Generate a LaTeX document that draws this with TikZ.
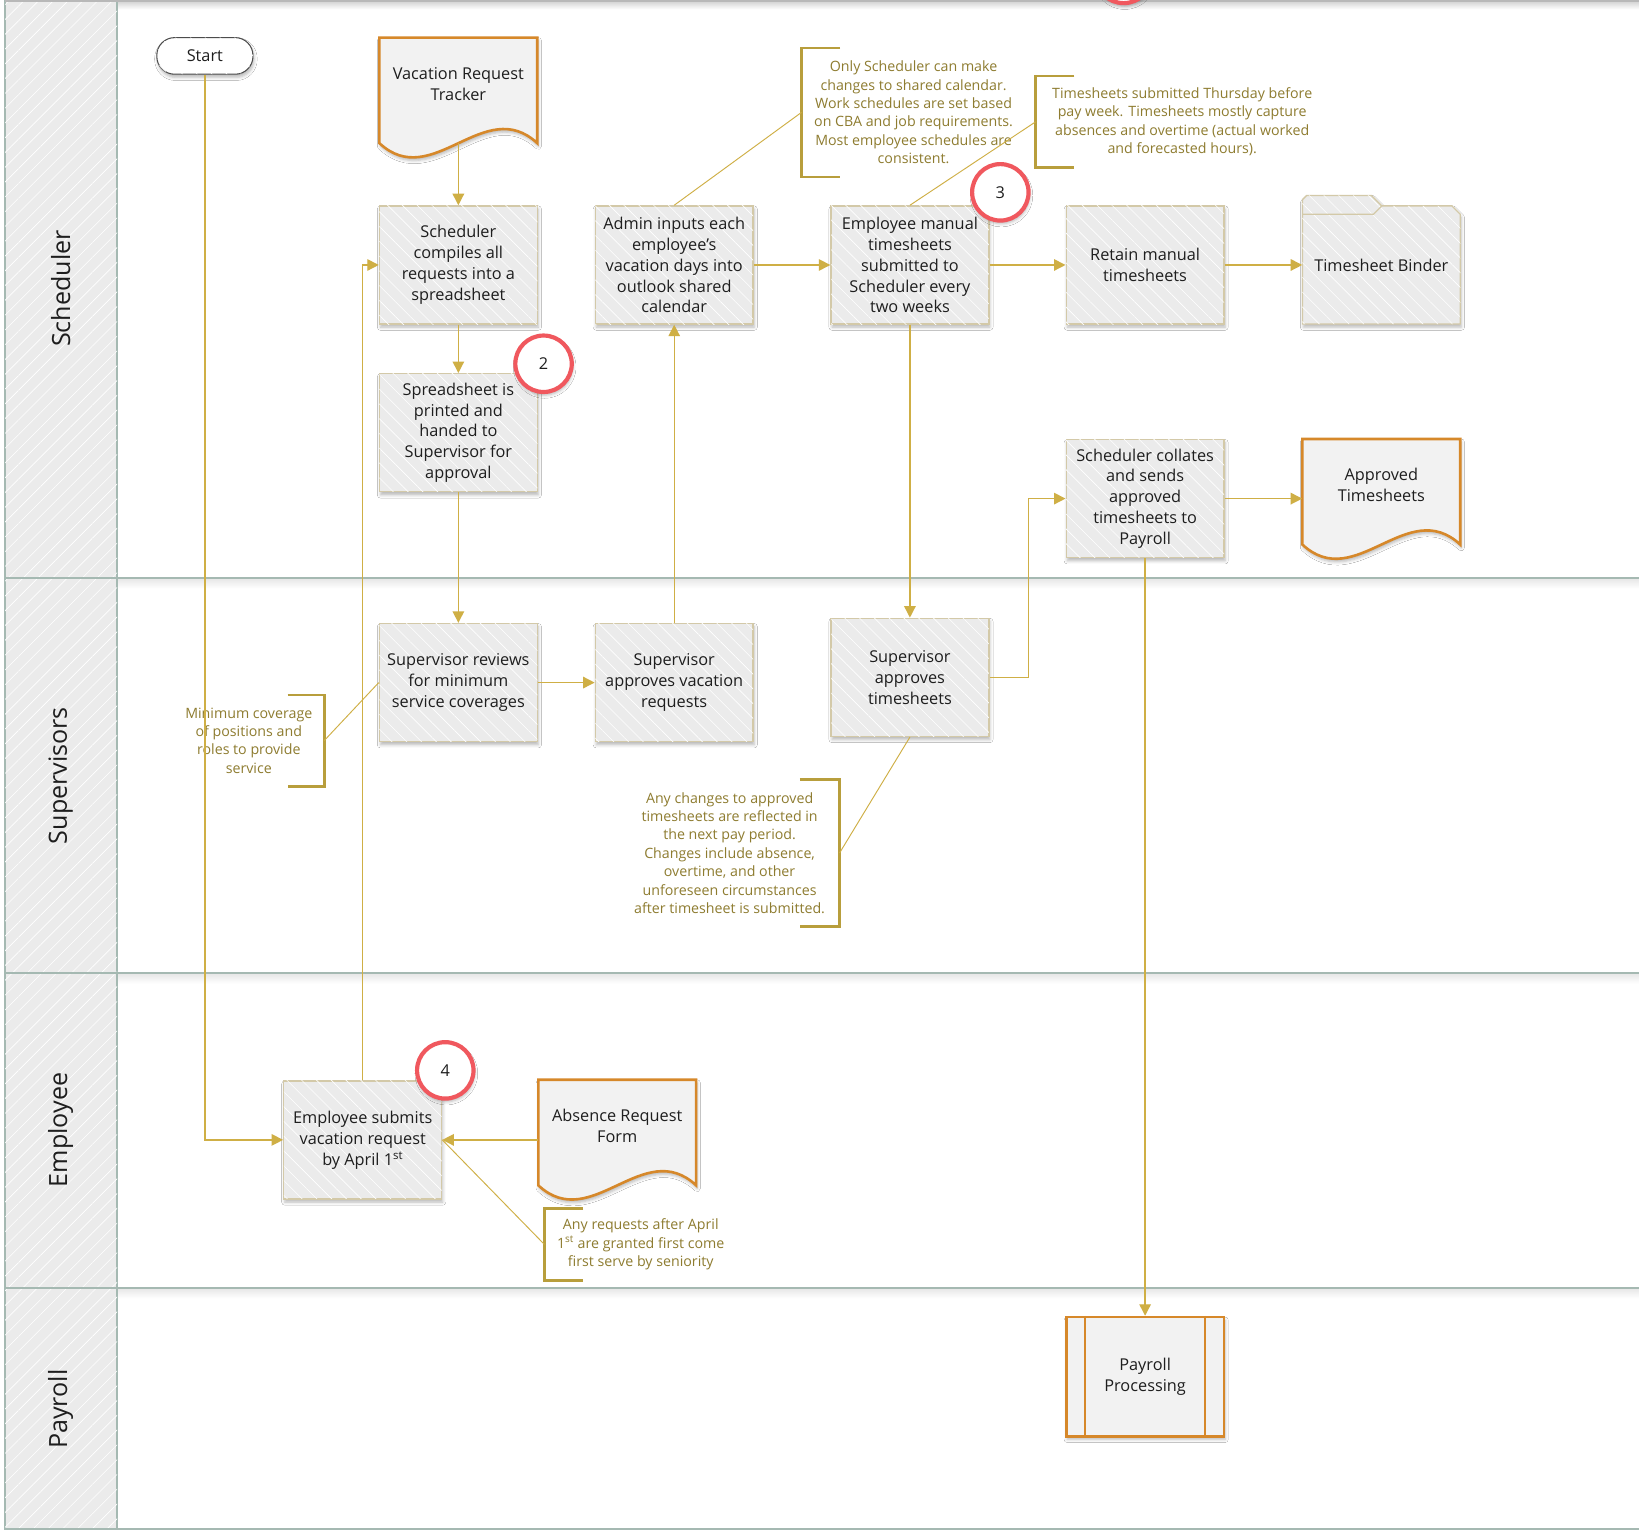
\documentclass[tikz,border=0pt]{standalone}
\usepackage{fontspec}
\setmainfont{Open Sans}
\usetikzlibrary{arrows.meta,patterns.meta,shadows.blur,calc}

\definecolor{lanegray}{HTML}{EBEBEB}
\definecolor{laneline}{HTML}{A5B9B2}
\definecolor{boxfill}{HTML}{EBEBEB}
\definecolor{boxline}{HTML}{D3C9A8}
\definecolor{docline}{HTML}{D6882A}
\definecolor{docfill}{HTML}{F2F2F2}
\definecolor{flow}{HTML}{CFAF45}
\definecolor{notebr}{HTML}{B89E3C}
\definecolor{notetx}{HTML}{8E7C30}
\definecolor{ringred}{HTML}{F0585E}
\definecolor{ink}{HTML}{1E1E1E}

\newcommand\bxfont{\fontsize{15.6}{20}\selectfont}
\newcommand\ntfont{\fontsize{13.6}{17.6}\selectfont}
\newcommand\lnfont{\fontsize{24}{28}\selectfont}

% document symbol: centre x, top y (wavy bottom edge)
\newcommand\docpath[2]{%
  \path[docshape] (#1-75.5,#2) -- (#1+75.5,#2) -- (#1+75.5,#2+101)
    .. controls (#1+25,#2+54) and (#1-25,#2+148) .. (#1-75.5,#2+101) -- cycle;}

\tikzset{
  softshadow/.style={blur shadow={shadow xshift=1pt,shadow yshift=-3pt,
      shadow blur radius=3pt,shadow opacity=28}},
  hatchbox/.style={postaction={pattern={Lines[angle=-45,distance=10pt,line width=0.6pt]},
      pattern color=white,fill opacity=0.7}},
  proc/.style={rectangle,draw=boxline,line width=1.3pt,fill=boxfill,hatchbox,
      minimum width=151pt,minimum height=113pt,inner sep=2pt,align=center,
      font=\bxfont,text=ink,softshadow},
  docshape/.style={draw=docline,line width=2.5pt,fill=docfill,softshadow},
  doclabel/.style={rectangle,minimum width=151pt,minimum height=88pt,inner sep=0pt,
      align=center,font=\bxfont,text=ink},
  folder/.style={draw=boxline,line width=1.3pt,fill=boxfill,hatchbox,softshadow},
  predef/.style={rectangle,draw=docline,line width=2.5pt,fill=docfill,
      minimum width=151pt,minimum height=114pt,inner sep=2pt,align=center,
      font=\bxfont,text=ink,softshadow},
  term/.style={rectangle,rounded corners=17pt,draw=black!70,line width=1pt,fill=white,
      hatchbox,minimum width=92pt,minimum height=35pt,font=\bxfont,text=ink,softshadow},
  note/.style={rectangle,inner sep=0pt,align=center,font=\ntfont,text=notetx},
  bracket/.style={draw=notebr,line width=2.6pt},
  notelink/.style={draw=flow,line width=0.9pt},
  flowline/.style={draw=flow,line width=1.3pt,-{Triangle[length=11pt,width=11pt]}},
  numring/.style={circle,draw=ringred,line width=4pt,fill=white,minimum size=54pt,
      inner sep=0pt,font=\bxfont,text=ink,softshadow},
  lanehead/.style={fill=lanegray,draw=laneline,line width=1.5pt,
      postaction={pattern={Lines[angle=45,distance=10pt,line width=0.6pt]},pattern color=white,
      fill opacity=0.7}},
  lanelabel/.style={rotate=90,font=\lnfont,text=ink}
}

\begin{document}
\begin{tikzpicture}[x=1pt,y=-1pt]
\useasboundingbox (0,0) rectangle (1568,1466);
\fill[white] (0,0) rectangle (1568,1466);

% ---- swimlanes ----
\shade[top color=black!20,bottom color=white] (5,0) rectangle (1568,9);
\foreach \ta/\tb in {0/553,553/931,931/1232,1232/1463}{
  \path[lanehead] (5,\ta) rectangle (112,\tb);
}
\foreach \s in {553,931,1232}{
  \shade[top color=black!10,bottom color=white] (113,\s) rectangle (1568,\s+10);
  \draw[laneline,line width=2pt] (5,\s) -- (1568,\s);
}
\draw[laneline,line width=2pt] (5,1463) -- (1568,1463);
\draw[black!28,line width=2pt] (5,0.6) -- (1568,0.6);

\node[lanelabel] (lane-sched) at (58,276) {Scheduler};
\node[lanelabel] (lane-sup) at (58,742) {Supervisors};
\node[lanelabel] (lane-emp) at (58,1081) {Employee};
\node[lanelabel] (lane-pay) at (58,1348) {Payroll};

% ---- scheduler lane ----
\node[term] (start) at (196,53.5) {Start};

\docpath{438.5}{36}
\node[doclabel] (vrt) at (438.5,93) {Vacation Request\\Tracker\\\strut};

\node[proc] (compiles) at (438.5,253.5) {Scheduler\\compiles all\\requests into a\\spreadsheet};
\node[proc] (spread) at (438.5,414) {Spreadsheet is\\printed and\\handed to\\Supervisor for\\approval};
\node[proc] (admin) at (645,253.5) {Admin inputs each\\employee’s\\vacation days into\\outlook shared\\calendar};
\node[proc] (empman) at (870.5,253.5) {Employee manual\\timesheets\\submitted to\\Scheduler every\\two weeks};
\node[proc] (retain) at (1095.5,253.5) {Retain manual\\timesheets};

\path[folder] (1246,310) -- (1246,191) -- (1250,187) -- (1312,187) -- (1322,197)
  -- (1389,197) -- (1397,205) -- (1397,310) -- cycle;
\draw[boxline,line width=1.2pt] (1246,205) -- (1314,205) -- (1322,197);
\node[rectangle,minimum width=151pt,minimum height=113pt,inner sep=0pt,font=\bxfont,text=ink]
  (binder) at (1321.5,253.5) {Timesheet Binder};

\node[proc] (collates) at (1095.5,477) {Scheduler collates\\and sends\\approved\\timesheets to\\Payroll};
\docpath{1321.5}{420}
\node[doclabel] (approved) at (1321.5,477) {Approved\\Timesheets\\\strut};

\node[note,minimum width=214pt,minimum height=123pt] (n1) at (874,107.5)
  {Only Scheduler can make\\changes to shared calendar.\\Work schedules are set based\\on CBA and job requirements.\\Most employee schedules are\\consistent.};
\draw[bracket] ($(n1.north west)+(37,0)$) -- (n1.north west) -- (n1.south west) -- ++(37,0);

\node[note,minimum width=280pt,minimum height=87pt] (n2) at (1131,116.5)
  {Timesheets submitted Thursday before\\pay week. Timesheets mostly capture\\absences and overtime (actual worked\\and forecasted hours).};
\draw[bracket] ($(n2.north west)+(37,0)$) -- (n2.north west) -- (n2.south west) -- ++(37,0);

% ---- supervisors lane ----
\node[proc] (supreview) at (438.5,653) {Supervisor reviews\\for minimum\\service coverages};
\node[proc] (supvac) at (645,653) {Supervisor\\approves vacation\\requests};
\node[proc] (supts) at (870.5,648) {Supervisor\\approves\\timesheets};

\node[note,minimum width=144pt,minimum height=87pt] (mc) at (238,708.5)
  {Minimum coverage\\of positions and\\roles to provide\\service};
\draw[bracket] ($(mc.north east)+(-35,0)$) -- (mc.north east) -- (mc.south east) -- ++(-35,0);

\node[note,minimum width=210pt,minimum height=140pt] (chg) at (698,816)
  {Any changes to approved\\timesheets are reflected in\\the next pay period.\\Changes include absence,\\overtime, and other\\unforeseen circumstances\\after timesheet is submitted.};
\draw[bracket] ($(chg.north east)+(-38,0)$) -- (chg.north east) -- (chg.south east) -- ++(-38,0);

% ---- employee lane ----
\node[proc] (empsub) at (347,1090.5) {Employee submits\\vacation request\\by April 1\textsuperscript{st}};
\docpath{590.5}{1033}
\node[doclabel] (absence) at (590.5,1090) {Absence Request\\Form\\\strut};

\node[note,minimum width=184pt,minimum height=69pt] (apr) at (613,1190.5)
  {Any requests after April\\1\textsuperscript{st} are granted first come\\first serve by seniority};
\draw[bracket] ($(apr.north west)+(37,0)$) -- (apr.north west) -- (apr.south west) -- ++(37,0);

% ---- payroll lane ----
\node[predef] (payproc) at (1095.5,1317) {Payroll\\Processing};
\draw[docline,line width=2pt] ($(payproc.north west)+(19.5,0)$) -- ($(payproc.south west)+(19.5,0)$);
\draw[docline,line width=2pt] ($(payproc.north east)+(-19.5,0)$) -- ($(payproc.south east)+(-19.5,0)$);

% ---- note links ----
\draw[notelink] (n1.west) -- (admin.north);
\draw[notelink] (n2.west) -- (empman.north);
\draw[notelink] (mc.east) -- (supreview.west);
\draw[notelink] (chg.east) -- (supts.south);
\draw[notelink] (apr.west) -- (empsub.east);

% ---- flow ----
\draw[flowline] (start) |- (empsub);
\draw[flowline] (empsub) |- (compiles);
\draw[flowline] (vrt) -- (compiles);
\draw[flowline] (compiles) -- (spread);
\draw[flowline] (spread) -- (supreview);
\draw[flowline] (supreview) -- (supvac);
\draw[flowline] (supvac) -- (admin);
\draw[flowline] (admin) -- (empman);
\draw[flowline] (empman) -- (retain);
\draw[flowline] (retain) -- (binder);
\draw[flowline] (empman) -- (supts);
\draw[flowline] (supts.east) -- ++(37,0) |- (collates.west);
\draw[flowline] (collates.east) -- (collates.east -| approved.west);
\draw[flowline] (collates) -- (payproc);
\draw[flowline] (absence.west |- empsub.east) -- (empsub.east);

% ---- step markers ----
\node[numring] (m2) at (520,348) {2};
\node[numring] (m3) at (957,184) {3};
\node[numring] (m4) at (426,1024) {4};
\node[numring] (m1) at (1075,-24) {};
\end{tikzpicture}
\end{document}
